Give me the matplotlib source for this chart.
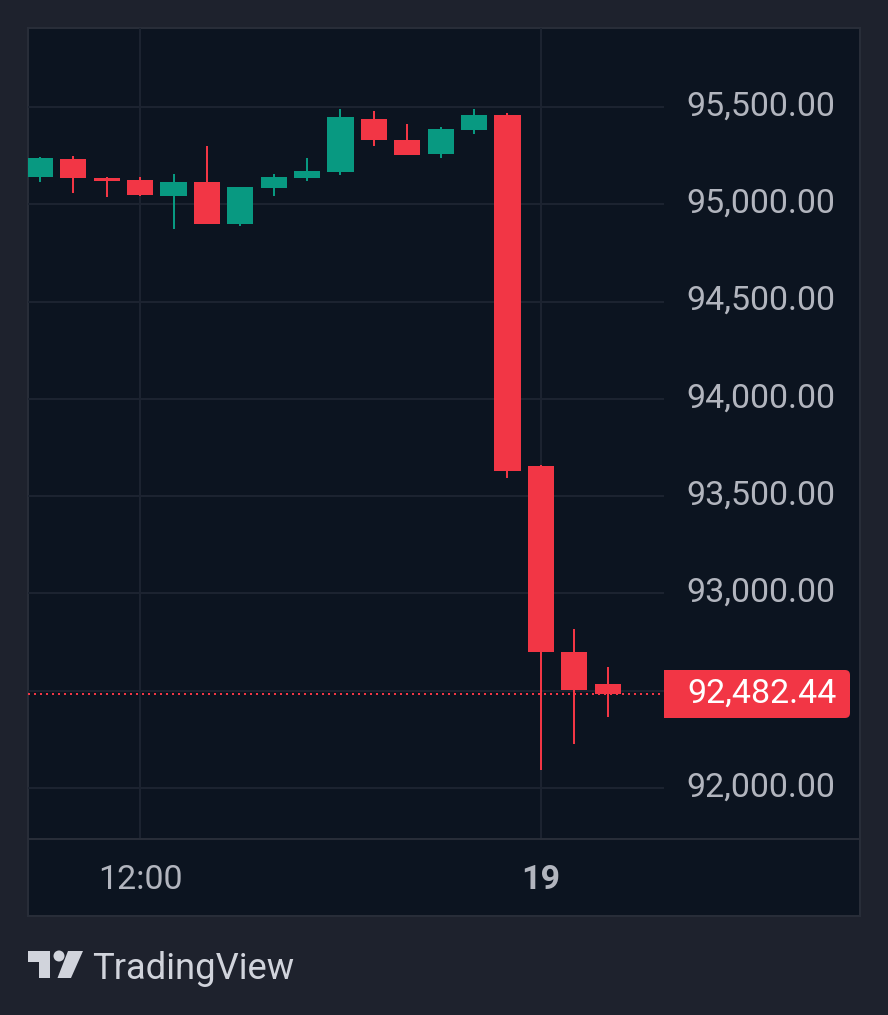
import matplotlib
matplotlib.use("Agg")
import matplotlib.pyplot as plt
from matplotlib.patches import FancyBboxPatch, Polygon, Circle, Rectangle
from matplotlib.transforms import ScaledTranslation

plt.rcParams["font.family"] = ["Roboto", "DejaVu Sans"]

# Candles, left to right
opens = [95140, 95233, 95135, 95125, 95043, 95115, 94899, 95084, 95135,
         95166, 95438, 95330, 95258, 95382, 95459, 93655, 92699, 92535]
highs = [95245, 95248, 95140, 95140, 95156, 95300, 95089, 95156, 95238,
         95490, 95480, 95413, 95397, 95490, 95469, 93660, 92817, 92622]
lows = [95116, 95060, 95037, 95043, 94873, 94899, 94888, 95043, 95120,
        95151, 95300, 95253, 95238, 95361, 93593, 92093, 92226, 92365]
closes = [95238, 95135, 95120, 95048, 95115, 94899, 95089, 95140, 95171,
          95449, 95330, 95253, 95387, 95459, 93629, 92699, 92504, 92482.44]

price_ticks = [92000, 92500, 93000, 93500, 94000, 94500, 95000, 95500]
price_labels = ["92,000.00", "", "93,000.00", "93,500.00", "94,000.00",
                "94,500.00", "95,000.00", "95,500.00"]
time_ticks = [3, 15]
time_labels = ["12:00", "19"]
last_price = 92482.44

OUTER = "#1e222d"
PANE = "#0c1420"
GRID = "#1c2330"
BORDER = "#282d38"
UP = "#089981"
DOWN = "#f23645"
TICK = "#b2b5be"
W, H = 888, 1015

fig = plt.figure(figsize=(W / 100, H / 100), dpi=100, facecolor=OUTER)

# Overlay in pixel coordinates for the frame, the price tag and the logo
bg = fig.add_axes([0, 0, 1, 1], zorder=0)
bg.set_xlim(0, W)
bg.set_ylim(H, 0)
bg.axis("off")
bg.add_patch(Rectangle((28, 28), 832, 888, fc=PANE, ec=BORDER, lw=1.44))
bg.plot([28, 860], [839, 839], color=BORDER, lw=1.44)

# Price pane
ax = fig.add_axes([28 / W, 1 - 838 / H, 636 / W, 810 / H], zorder=1)
ax.patch.set_alpha(0)
step = 33.4
ax.set_xlim((28 - 39.9) / step, (664 - 39.9) / step)
ax.set_ylim(91743, 95906)

for s in ax.spines.values():
    s.set_visible(False)

ax.set_axisbelow(True)
ax.grid(True, color=GRID, lw=1.44)
ax.yaxis.tick_right()
ax.set_yticks(price_ticks)
ax.set_yticklabels(price_labels)
ax.set_xticks(time_ticks)
ax.set_xticklabels(time_labels)
ax.tick_params(axis="y", length=0, pad=16.4, labelsize=24.5, labelcolor=TICK)
ax.tick_params(axis="x", length=0, pad=18.5, labelsize=24.5, labelcolor=TICK)
ax.get_xticklabels()[1].set_fontweight("bold")

# price labels sit a little above their grid lines
shift = ScaledTranslation(0, 4 / 100, fig.dpi_scale_trans)
for lab in ax.get_yticklabels():
    lab.set_transform(lab.get_transform() + shift)

ax.axhline(last_price, color=DOWN, lw=1.44, ls=(0, (1, 2)), zorder=1)

xs = list(range(len(opens)))
colors = [UP if c >= o else DOWN for o, c in zip(opens, closes)]
ax.vlines(xs, lows, highs, colors=colors, lw=1.44, zorder=2)
ax.bar(xs, [abs(c - o) for o, c in zip(opens, closes)],
       bottom=[min(o, c) for o, c in zip(opens, closes)],
       width=0.78, color=colors, zorder=3)

# Last price tag
top = fig.add_axes([0, 0, 1, 1], zorder=2)
top.set_xlim(0, W)
top.set_ylim(H, 0)
top.axis("off")
top.add_patch(FancyBboxPatch((668, 670), 182, 48, boxstyle="round,pad=0,rounding_size=5",
                             fc=DOWN, ec="none"))
top.add_patch(Rectangle((664, 670), 20, 48, fc=DOWN, ec="none"))
top.text(687, 690.5, f"{last_price:,.2f}", color="white", fontsize=24.5,
         ha="left", va="center_baseline")

# TradingView logo
top.add_patch(Polygon([(28, 951), (50, 951), (50, 978), (39, 978), (39, 962), (28, 962)],
                      fc="#d1d4dc", ec="none"))
top.add_patch(Circle((59, 956), 5.5, fc="#d1d4dc", ec="none"))
top.add_patch(Polygon([(68, 951), (83, 951), (71, 978), (57.5, 978)], fc="#d1d4dc", ec="none"))
top.text(92.5, 965, "TradingView", color="#d1d4dc", fontsize=26.2, ha="left", va="center_baseline")

fig.savefig("out.png", dpi=100, facecolor=OUTER)
